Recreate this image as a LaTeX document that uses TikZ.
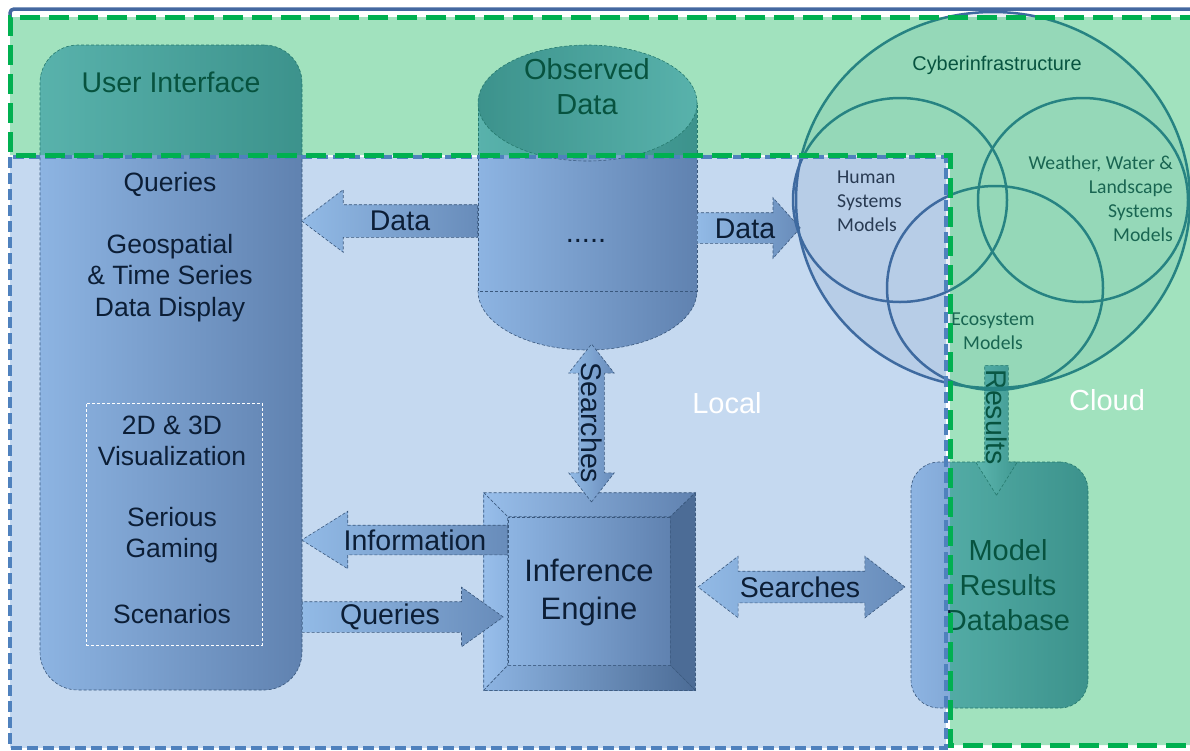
\documentclass[tikz,border=0pt]{standalone}
\usepackage{fontspec}
\setmainfont{Liberation Sans}
\newfontfamily\calibrifont{Carlito}
\usepackage{tikz}
\usetikzlibrary{positioning,shapes.arrows}
\usepackage{xcolor}
\definecolor{cloudgreen}{RGB}{0, 176, 80}
\definecolor{localblue}{RGB}{197, 217, 240}
\definecolor{borderblue}{RGB}{79, 129, 189}
\definecolor{topblue}{RGB}{68, 104, 160}
\definecolor{shadelight}{RGB}{141, 180, 226}
\definecolor{shadedark}{RGB}{96, 130, 176}
\definecolor{arrowlight}{RGB}{146, 186, 230}
\definecolor{arrowdark}{RGB}{104, 140, 186}
\definecolor{bevellight}{RGB}{152, 190, 234}
\definecolor{beveldark}{RGB}{76, 108, 150}
\definecolor{textnavy}{RGB}{12, 30, 54}
\definecolor{venngray}{RGB}{40, 58, 82}
\definecolor{edgeblue}{RGB}{58, 88, 125}
\definecolor{circleblue}{RGB}{62, 106, 160}

\begin{document}
\begin{tikzpicture}[x=1pt, y=-1pt,
        % Text styles
        heading/.style={font=\fontsize{29}{35}\selectfont, text=textnavy, align=center, inner sep=0pt},
        listtext/.style={font=\fontsize{26.5}{31.5}\selectfont, text=textnavy, align=center, inner sep=0pt},
        arrowtext/.style={font=\fontsize{28.5}{28.5}\selectfont, text=textnavy, inner sep=0pt},
        venntext/.style={font=\calibrifont\fontsize{19.7}{24}\selectfont, text=venngray, inner sep=0pt},
        zonetext/.style={font=\fontsize{29}{29}\selectfont, text=white, inner sep=0pt},
        % Shape styles
        panel/.style={draw=edgeblue, densely dashed, line width=0.6pt, left color=shadelight, right color=shadedark, inner sep=0pt},
        blockarrow/.style={single arrow, anchor=tail, draw=edgeblue, densely dashed, line width=0.6pt, left color=arrowlight, right color=arrowdark, inner xsep=0pt, text height=0pt, text depth=0pt},
        twoarrow/.style={double arrow, draw=edgeblue, densely dashed, line width=0.6pt, left color=arrowlight, right color=arrowdark, inner xsep=0pt, text height=0pt, text depth=0pt},
        venn/.style={draw=circleblue, line width=2.5pt}
    ]
    \useasboundingbox (0,0) rectangle (1190,750);
    \clip (0,0) rectangle (1190,750);

    % Background: top rule and local zone
    \draw[topblue, line width=3.5pt, rounded corners=4pt] (10,18) -- (10,9) -- (1195,9);
    \fill[localblue] (10,157) rectangle (946,748);

    % User interface column
    \node[panel, rounded corners=38pt, minimum width=262, minimum height=645] (ui) at (171,367.5) {};
    \node[draw=white, densely dashed, line width=0.8pt, inner sep=0pt, minimum width=176, minimum height=242] (vizbox) at (174,524) {};
    \node[heading, font=\fontsize{28.5}{33}\selectfont] (uititle) at (171,82) {User Interface};
    \node[listtext] (uiqueries) at (170,184) {Queries};
    \node[listtext] (geo) at (170,278) {Geospatial\\\& Time Series\\Data Display};
    \node[listtext] (viz) at (172,441) {2D \& 3D\\Visualization};
    \node[listtext] (gaming) at (172,535) {Serious\\Gaming};
    \node[listtext] (scen) at (172,614) {Scenarios};

    % Observed data cylinder
    \path[panel] (587.5,291) ellipse [x radius=109.5pt, y radius=59pt];
    \path[panel] (478,103) rectangle (697,291);
    \path[panel, left color=shadedark, right color=shadelight] (587.5,103) ellipse [x radius=109.5pt, y radius=58pt];
    \node[heading] (obs) at (587,87) {Observed\\Data};
    \node[heading] (dots) at (586,241) {.....};

    % Inference engine (bevelled block)
    \node[panel, minimum width=211, minimum height=197] (engine) at (589.5,591.5) {};
    \node[panel, minimum width=162, minimum height=148] (engineface) at (589,591) {};
    \path[panel, left color=bevellight, right color=shadedark] (engine.north west) -- (engine.north east) -- (engineface.north east) -- (engineface.north west) -- cycle;
    \path[panel, left color=bevellight, right color=shadelight] (engine.north west) -- (engineface.north west) -- (engineface.south west) -- (engine.south west) -- cycle;
    \path[panel, left color=beveldark, right color=beveldark] (engine.north east) -- (engine.south east) -- (engineface.south east) -- (engineface.north east) -- cycle;
    \path[panel, left color=shadelight, right color=beveldark] (engine.south west) -- (engineface.south west) -- (engineface.south east) -- (engine.south east) -- cycle;
    \node[heading, font=\fontsize{31}{38}\selectfont] (enginetext) at (589,592) {Inference\\Engine};

    % Model results database
    \node[panel, rounded corners=28pt, minimum width=177, minimum height=246] (mrd) at (999.5,585) {};
    \node[heading] (mrdtext) at (1008,585) {Model\\Results\\Database};

    % Block arrows (placed by their tails)
    \node[blockarrow, shape border rotate=180, minimum height=176, inner ysep=16, single arrow head extend=15, single arrow tip angle=74] (dataleft) at (478,221) {};
    \node[arrowtext] (dataleftlabel) at (400,221) {Data};
    \node[blockarrow, minimum height=103, inner ysep=15, single arrow head extend=15, single arrow tip angle=96] (dataright) at (697,228) {};
    \node[arrowtext] (datarightlabel) at (745,229) {Data};
    \node[blockarrow, shape border rotate=180, minimum height=206, inner ysep=14.5, single arrow head extend=14, single arrow tip angle=64] (info) at (508,540) {};
    \node[arrowtext] (infolabel) at (415,540) {Information};
    \node[blockarrow, minimum height=201, inner ysep=15, single arrow head extend=14.5, single arrow tip angle=71] (queries) at (302,617) {};
    \node[arrowtext] (querieslabel) at (390,617) {Queries};
    \node[twoarrow, minimum height=207, inner ysep=15.5, double arrow head extend=15, double arrow tip angle=75] (searchh) at (801.5,587) {};
    \node[arrowtext] (searchhlabel) at (800,587) {Searches};
    \node[twoarrow, rotate=-90, minimum height=158, inner ysep=12.5, double arrow head extend=10, double arrow tip angle=76] (searchv) at (591.5,423) {};
    \node[arrowtext, rotate=-90] (searchvlabel) at (592,423) {Searches};
    \node[blockarrow, rotate=-90, minimum height=130, inner ysep=11.5, single arrow head extend=9, single arrow tip angle=64] (results) at (996.5,365) {};
    \node[arrowtext, rotate=-90] (resultslabel) at (997,417) {Results};

    % Cyberinfrastructure circles
    \path[venn, fill=circleblue, fill opacity=0.1] (993,200) ellipse [x radius=197pt, y radius=188pt];
    \path[venn] (900,200) ellipse [x radius=107pt, y radius=102pt];
    \path[venn] (1083,200) ellipse [x radius=105pt, y radius=102pt];
    \path[venn] (995,288) ellipse [x radius=108pt, y radius=102pt];
    \node[venntext, font=\fontsize{19.9}{24}\selectfont, text=textnavy] (cyber) at (997,65) {Cyberinfrastructure};
    \node[venntext, align=left, anchor=west] (human) at (837,201) {Human\\Systems\\Models};
    \node[venntext, align=right, anchor=east] (weather) at (1173,199) {Weather, Water \&\\Landscape\\Systems\\Models};
    \node[venntext, align=center] (eco) at (993,331) {Ecosystem\\Models};

    % Cloud zone overlay and zone borders
    \fill[cloudgreen, opacity=0.37] (10,17) -- (1200,17) -- (1200,745) -- (950,745) -- (950,155) -- (10,155) -- cycle;
    \draw[borderblue, line width=4pt, dash pattern=on 11pt off 5pt] (10,157) rectangle (946,748);
    \draw[cloudgreen, line width=5pt, dash pattern=on 20pt off 9pt] (1200,17) -- (10,17) -- (10,155) -- (950,155) -- (950,745) -- (1200,745);

    % Zone labels
    \node[zonetext] (local) at (727,403) {Local};
    \node[zonetext] (cloud) at (1107,400) {Cloud};
\end{tikzpicture}
\end{document}
